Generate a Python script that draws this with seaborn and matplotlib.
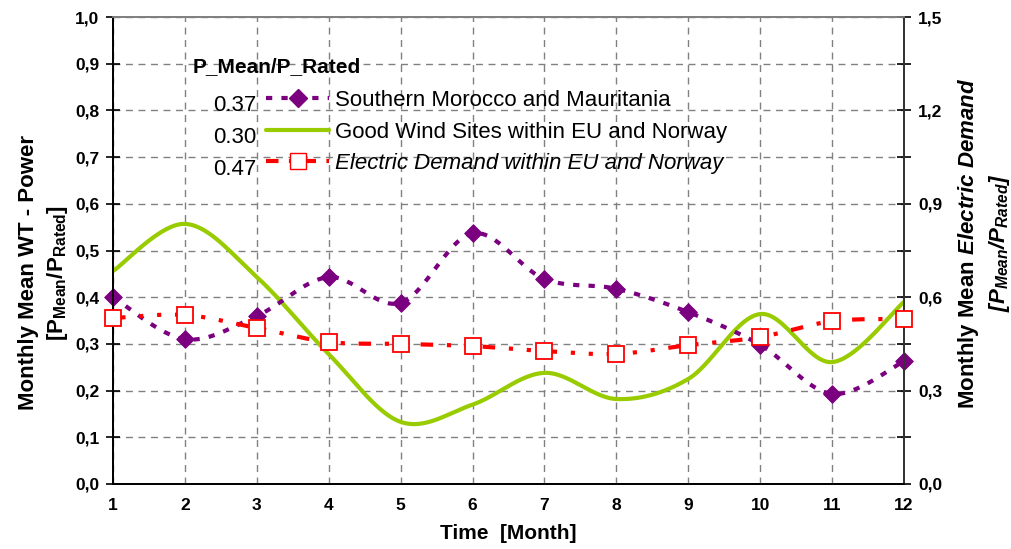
import numpy as np
import pandas as pd
import matplotlib
matplotlib.use('Agg')
import matplotlib.pyplot as plt
import seaborn as sns
from matplotlib.lines import Line2D

# data
months = [1, 2, 3, 4, 5, 6, 7, 8, 9, 10, 11, 12]
morocco = [0.40, 0.31, 0.36, 0.443, 0.388, 0.537, 0.439, 0.418, 0.368, 0.298, 0.193, 0.263]
wind_eu = [0.456, 0.557, 0.443, 0.278, 0.133, 0.17, 0.238, 0.182, 0.225, 0.364, 0.261, 0.39]
demand = [0.533, 0.543, 0.501, 0.456, 0.45, 0.443, 0.427, 0.418, 0.446, 0.472, 0.523, 0.530]  # right axis

means = ['0.37', '0.30', '0.47']
labels = ['Southern Morocco and Mauritania',
          'Good Wind Sites within EU and Norway',
          'Electric Demand within EU and Norway']

purple = '#7B0080'
green = '#99CC00'
red = '#FF0000'
dots = (0, (1.5, 2.2))
dash_dot_dot = (0, (3, 3.3, 1, 3.3, 1, 3.3))

sns.set_style('white')
plt.rcParams['font.family'] = ['Liberation Sans', 'DejaVu Sans']
plt.rcParams['text.color'] = 'black'
plt.rcParams['axes.labelcolor'] = 'black'
plt.rcParams['xtick.color'] = 'black'
plt.rcParams['ytick.color'] = 'black'
plt.rcParams['mathtext.fontset'] = 'custom'
plt.rcParams['mathtext.rm'] = 'Liberation Sans'
plt.rcParams['mathtext.it'] = 'Liberation Sans:italic'
plt.rcParams['mathtext.bf'] = 'Liberation Sans:bold'
if 'mathtext.bfit' in plt.rcParams:
    plt.rcParams['mathtext.bfit'] = 'Liberation Sans:italic:bold'


def smooth(x, y, n=30):
    # Excel style smoothed line (Catmull-Rom through the points)
    x = np.asarray(x, float)
    y = np.asarray(y, float)
    px = np.concatenate([[x[0]], x, [x[-1]]])
    py = np.concatenate([[y[0]], y, [y[-1]]])
    xs, ys = [], []
    t = np.linspace(0, 1, n)
    for i in range(1, len(px) - 2):
        p0, p1, p2, p3 = (np.array([px[j], py[j]]) for j in (i - 1, i, i + 1, i + 2))
        c1 = p1 + (p2 - p0) / 6
        c2 = p2 - (p3 - p1) / 6
        b = ((1 - t) ** 3)[:, None] * p1 + (3 * (1 - t) ** 2 * t)[:, None] * c1 \
            + (3 * (1 - t) * t ** 2)[:, None] * c2 + (t ** 3)[:, None] * p2
        xs.extend(b[:, 0])
        ys.extend(b[:, 1])
    return np.array(xs), np.array(ys)


df = pd.DataFrame({'month': months, 'morocco': morocco, 'wind': wind_eu, 'demand': demand})

fig = plt.figure(figsize=(10.12, 5.49), dpi=100)
ax = fig.add_axes([0.1117, 0.1184, 0.7816, 0.8506])
ax2 = ax.twinx()

# left axis series
sx, sy = smooth(df['month'], df['wind'])
ax.plot(sx, sy, color=green, lw=3, solid_capstyle='round', zorder=3)
sx, sy = smooth(df['month'], df['morocco'])
ax.plot(sx, sy, color=purple, lw=3, ls=dots, zorder=4)
sns.scatterplot(data=df, x='month', y='morocco', ax=ax, marker='D', s=80,
                color=purple, edgecolor=purple, zorder=5, clip_on=False, legend=False)

# right axis series
sx, sy = smooth(df['month'], df['demand'])
ax2.plot(sx, sy, color=red, lw=3, ls=dash_dot_dot, zorder=4)
ax2.plot(df['month'], df['demand'], ls='none', marker='s', ms=11, mfc='white',
         mec=red, mew=1.3, zorder=5, clip_on=False)

ax.set_xlim(1, 12)
ax.set_ylim(0, 1.0)
ax2.set_ylim(0, 1.5)
ax.set_xticks(months)
ax.set_yticks(np.arange(0, 1.01, 0.1))
ax.set_yticklabels([f'{v:.1f}'.replace('.', ',') for v in np.arange(0, 1.01, 0.1)])
ax2.set_yticks(np.arange(0, 1.51, 0.3))
ax2.set_yticklabels([f'{v:.1f}'.replace('.', ',') for v in np.arange(0, 1.51, 0.3)])
ax2.set_yticks(np.arange(0.15, 1.5, 0.3), minor=True)

ax.grid(True, color='#808080', ls=(0, (5, 4)), lw=1)
ax2.grid(False)
ax.set_axisbelow(True)

for a in (ax, ax2):
    a.spines['top'].set_color('#808080')
    a.spines['left'].set_color('black')
    a.spines['right'].set_color('#333333')
    a.spines['bottom'].set_color('black')
    for s in a.spines.values():
        s.set_linewidth(1.3)

ax.tick_params(axis='both', direction='inout', length=10, width=1.2, labelsize=12.5,
               pad=5, colors='black')
ax2.tick_params(axis='y', which='both', direction='inout', length=10, width=1.2,
                labelsize=12.5, pad=5, colors='black')
for lab in ax.get_xticklabels() + ax.get_yticklabels() + ax2.get_yticklabels():
    lab.set_fontweight('bold')

ax.set_xlabel('Time  [Month]', fontsize=15, fontweight='bold', labelpad=8)
ax.set_ylabel('Monthly Mean WT - Power\n' + r'$\mathbf{[P_{Mean}/P_{Rated}]}$',
              fontsize=16, fontweight='bold', linespacing=1.3)
ax.yaxis.set_label_coords(-0.055, 0.452)
ax2.set_ylabel(r'$\mathbf{Monthly\ Mean}\ \mathbfit{Electric\ Demand}$' + '\n'
               + r'$\mathbfit{[P_{Mean}/P_{Rated}]}$',
               fontsize=16, rotation=90, linespacing=1.3)
ax2.yaxis.set_label_coords(1.066, 0.516)

# legend with mean values
handles = [
    Line2D([], [], color=purple, lw=3, ls=dots, marker='D', ms=9),
    Line2D([], [], color=green, lw=3),
    Line2D([], [], color=red, lw=3, ls=(0, (3, 2.5, 1, 2.5)), marker='s', ms=11,
           mfc='white', mec=red),
]
leg = ax.legend(handles, labels, loc='upper left', bbox_to_anchor=(0.194, 0.844),
                frameon=False, fontsize=16, handlelength=2.8, handletextpad=0.3,
                labelspacing=0.48, borderaxespad=0, borderpad=0)
leg.get_texts()[2].set_fontstyle('italic')
fig.text(0.19, 0.878, 'P_Mean/P_Rated', fontsize=15, fontweight='bold', va='center')
for i, m in enumerate(means):
    fig.text(0.2105, 0.8085 - i * 0.0583, m, fontsize=16, va='center')

fig.savefig('out.png', dpi=100)
